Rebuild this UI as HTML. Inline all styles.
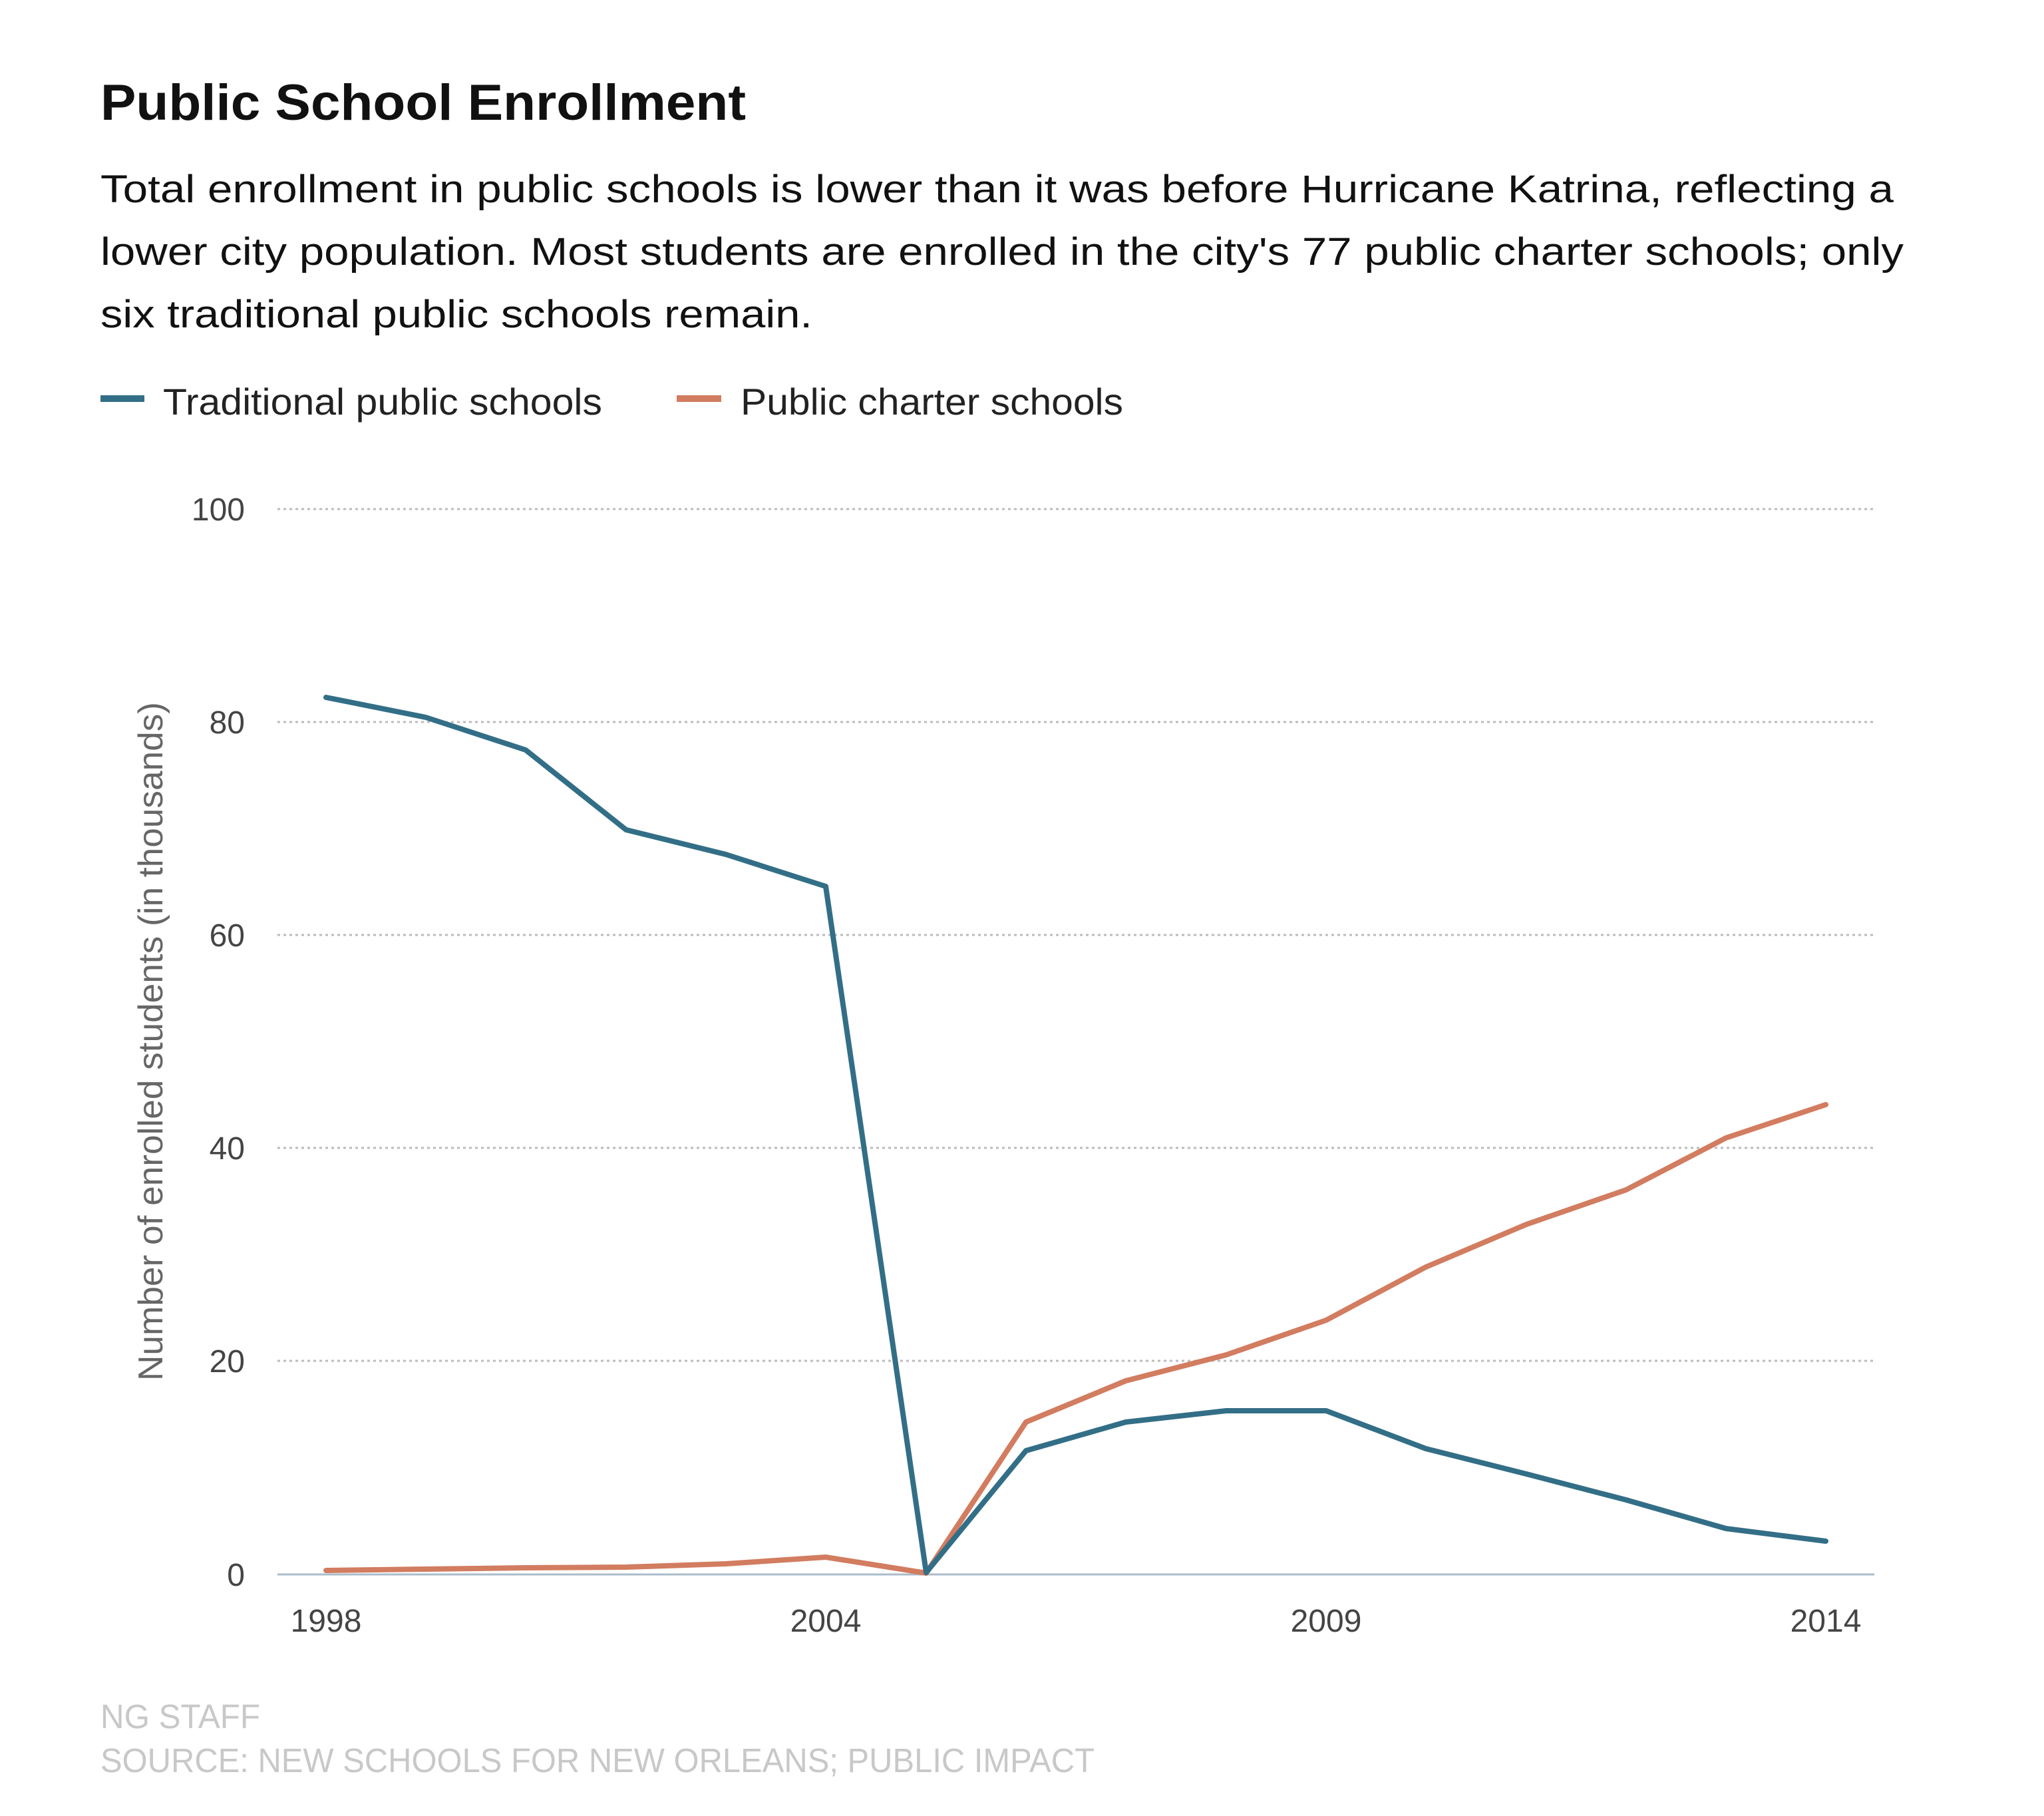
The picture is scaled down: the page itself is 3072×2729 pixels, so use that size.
<!DOCTYPE html>
<html><head><meta charset="utf-8"><style>
html,body{margin:0;padding:0;background:#fff;}
svg{display:block;}
text{font-family:"Liberation Sans",Arial,sans-serif;}
</style></head><body>
<svg width="3072" height="2729" viewBox="0 0 3072 2729" xmlns="http://www.w3.org/2000/svg">
<rect width="3072" height="2729" fill="#fff"/>
<text x="151" y="180" font-size="76" font-weight="bold" fill="#111" textLength="970" lengthAdjust="spacingAndGlyphs">Public School Enrollment</text>
<g font-size="58" fill="#111">
<text x="151" y="304" textLength="2695" lengthAdjust="spacingAndGlyphs">Total enrollment in public schools is lower than it was before Hurricane Katrina, reflecting a</text>
<text x="151" y="398" textLength="2710" lengthAdjust="spacingAndGlyphs">lower city population. Most students are enrolled in the city's 77 public charter schools; only</text>
<text x="151" y="492" textLength="1070" lengthAdjust="spacingAndGlyphs">six traditional public schools remain.</text>
</g>
<rect x="151" y="594" width="66" height="10" fill="#336e87"/>
<text x="245" y="623" font-size="56" fill="#222" textLength="660" lengthAdjust="spacingAndGlyphs">Traditional public schools</text>
<rect x="1017" y="594" width="67" height="10" fill="#d27c60"/>
<text x="1113" y="623" font-size="56" fill="#222" textLength="575" lengthAdjust="spacingAndGlyphs">Public charter schools</text>
<g stroke="#bbb" stroke-width="3" stroke-dasharray="4 5">
<line x1="417" y1="765" x2="2817" y2="765"/>
<line x1="417" y1="1085" x2="2817" y2="1085"/>
<line x1="417" y1="1405" x2="2817" y2="1405"/>
<line x1="417" y1="1725" x2="2817" y2="1725"/>
<line x1="417" y1="2045" x2="2817" y2="2045"/>
</g>
<line x1="417" y1="2366" x2="2817" y2="2366" stroke="#a9bccb" stroke-width="3"/>
<g font-size="48" fill="#444" text-anchor="end">
<text x="368" y="782">100</text>
<text x="368" y="1102">80</text>
<text x="368" y="1422">60</text>
<text x="368" y="1742">40</text>
<text x="368" y="2062">20</text>
<text x="368" y="2383">0</text>
</g>
<g font-size="48" fill="#444" text-anchor="middle">
<text x="490" y="2452">1998</text>
<text x="1241" y="2452">2004</text>
<text x="1993" y="2452">2009</text>
<text x="2744" y="2452">2014</text>
</g>
<text transform="translate(244,1565) rotate(-90)" font-size="52" fill="#666" text-anchor="middle" textLength="1020" lengthAdjust="spacingAndGlyphs">Number of enrolled students (in thousands)</text>
<polyline fill="none" stroke="#d27c60" stroke-width="8" stroke-linejoin="round" stroke-linecap="round" points="490,2360 640,2358 790,2356 941,2355 1091,2350 1241,2340 1392,2364 1542,2137 1692,2075 1843,2036 1993,1984 2143,1904 2294,1840 2444,1788 2594,1710 2744,1660"/>
<polyline fill="none" stroke="#336e87" stroke-width="8" stroke-linejoin="round" stroke-linecap="round" points="490,1048 640,1078 790,1127 941,1247 1091,1284 1241,1332 1392,2363 1542,2180 1692,2137 1843,2120 1993,2120 2143,2177 2294,2215 2444,2254 2594,2297 2744,2316"/>
<g font-size="51" fill="#c8c8c8">
<text x="151" y="2597" textLength="240" lengthAdjust="spacingAndGlyphs">NG STAFF</text>
<text x="151" y="2663" textLength="1494" lengthAdjust="spacingAndGlyphs">SOURCE: NEW SCHOOLS FOR NEW ORLEANS; PUBLIC IMPACT</text>
</g>
</svg>
</body></html>
